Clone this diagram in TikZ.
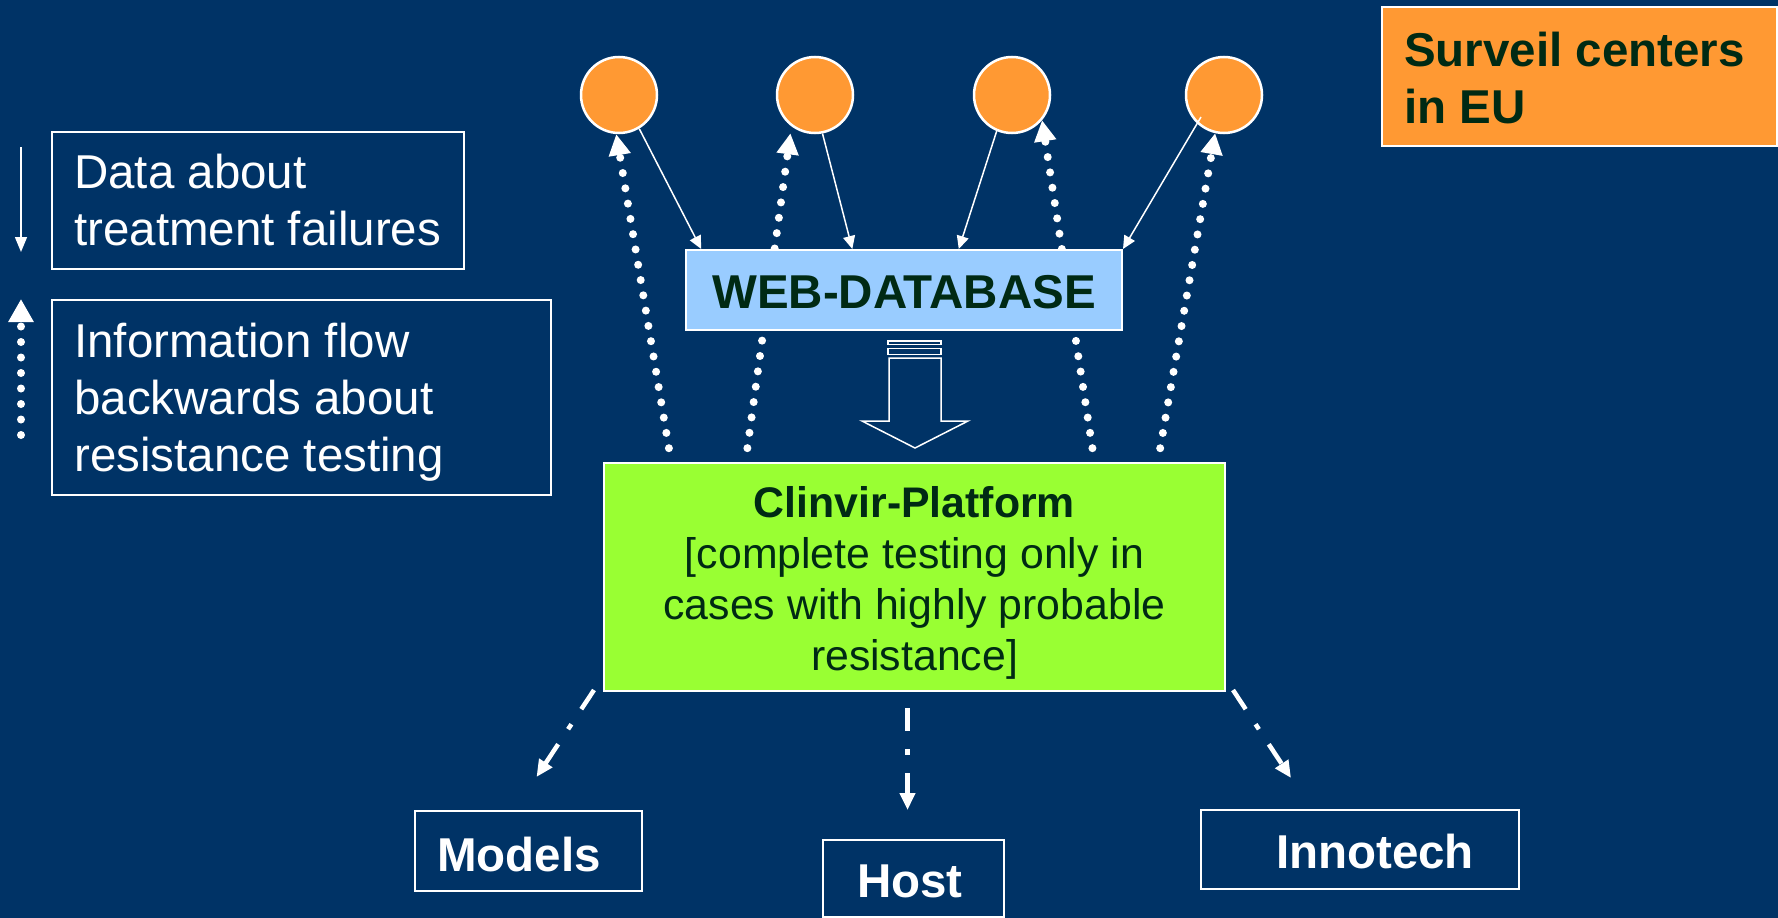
\documentclass[tikz,border=0pt]{standalone}
\usepackage{fontspec}
\setmainfont{Liberation Sans}
\usetikzlibrary{arrows.meta,calc}

\definecolor{bgnavy}{HTML}{003366}
\definecolor{centerorange}{HTML}{FF9933}
\definecolor{dbblue}{HTML}{99CCFF}
\definecolor{platgreen}{HTML}{99FF33}
\definecolor{darkink}{RGB}{0,42,20}

\newcommand{\bigfont}{\fontsize{47.5}{57}\selectfont}
\newcommand{\platfont}{\fontsize{42.8}{51}\selectfont}

\begin{document}
\begin{tikzpicture}[x=1pt, y=-1pt,
  boxnode/.style={draw=white, line width=2pt, rectangle, inner sep=0pt},
  center/.style={circle, draw=white, line width=2.5pt, fill=centerorange,
    minimum size=76pt, inner sep=0pt},
  whitetext/.style={text=white, inner sep=0pt, font=\bigfont},
  inktext/.style={text=darkink, inner sep=0pt},
  solidarr/.style={draw=white, line width=1.5pt, -{Triangle[length=13pt,width=12pt]}},
  dotarr/.style={draw=white, line width=8pt, line cap=round,
    dash pattern=on 0pt off 15.5pt, -{Triangle[length=21pt,width=21pt]}},
  dasharr/.style={draw=white, line width=4.5pt,
    dash pattern=on 23pt off 18pt on 6pt off 18pt,
    -{Triangle[length=17pt,width=15pt]}},
  hollow/.style={draw=white, line width=1.5pt, line join=miter}
]
% canvas
\path[fill=bgnavy, use as bounding box] (0,0) rectangle (1778,918);

% surveillance centres
\node[center] (c1) at (619,95) {};
\node[center] (c2) at (815,95) {};
\node[center] (c3) at (1012,95) {};
\node[center] (c4) at (1224,95) {};

% platform
\node[boxnode, fill=platgreen, minimum width=621pt, minimum height=228pt] (clin) at (914.5,577) {};
\node[inktext, anchor=north, align=center, font=\platfont] (clintext) at (914.5,481.8)
  {\strut\textbf{Clinvir-Platform}\\\strut[complete testing only in\\\strut cases with highly probable\\\strut resistance]};

% information flowing back to the centres
\draw[dotarr, shorten <=14pt] ($(clin.north west)!0.1095!(clin.north east)$) -- (c1.266);
\draw[dotarr, shorten <=14pt, shorten >=7pt] ($(clin.north west)!0.2287!(clin.north east)$) -- (c2.233);
\draw[dotarr, shorten <=14pt] ($(clin.north west)!0.789!(clin.north east)$) -- (c3.320);
\draw[dotarr, shorten <=14pt] ($(clin.north west)!0.8905!(clin.north east)$) -- (c4.257);

% web database
\node[boxnode, fill=dbblue, minimum width=436pt, minimum height=80pt] (web) at (904,290) {};
\node[inktext, anchor=base, font=\bigfont\bfseries] (webtext) at (904,308) {WEB-DATABASE};

% data sent from the centres
\draw[solidarr] (c1.301) -- ($(web.north west)!0.037!(web.north east)$);
\draw[solidarr] (c2.281) -- ($(web.north west)!0.382!(web.north east)$);
\draw[solidarr] (c3.247) -- ($(web.north west)!0.625!(web.north east)$);
\draw[solidarr] ($(c4.center)+(-23,22)$) -- (web.north east);

% hollow transfer arrow
\draw[hollow] (888,341) rectangle (941,344.5);
\draw[hollow] (888,348.3) rectangle (941,354.3);
\draw[hollow] (889,358) -- (941,358) -- (941,421) -- (968,421) -- (915,448)
  -- (862,421) -- (889,421) -- cycle;

% legend
\node[boxnode, minimum width=412pt, minimum height=137.5pt] (legdata) at (258,200.25) {};
\node[whitetext, anchor=north west, align=left] (legdatatext) at (74,148.1)
  {\strut Data about\\\strut treatment failures};
\node[boxnode, minimum width=499pt, minimum height=195pt] (leginfo) at (301.5,397.5) {};
\node[whitetext, anchor=north west, align=left] (leginfotext) at (74,317.1)
  {\strut Information flow\\\strut backwards about\\\strut resistance testing};
\coordinate (ldtop) at (21,147);
\coordinate (ldbot) at (21,252);
\draw[solidarr, -{Triangle[length=15pt,width=12pt]}] (ldtop) -- (ldbot);
\coordinate (lutail) at (21,435);
\coordinate (luhead) at (21,299);
\draw[dotarr, -{Triangle[length=23pt,width=24pt]}] (lutail) -- (luhead);

% title box
\node[boxnode, fill=centerorange, minimum width=395pt, minimum height=139pt] (surveil) at (1579.5,76.5) {};
\node[inktext, anchor=north west, align=left, font=\bigfont\bfseries] (surveiltext) at (1404,26.1)
  {\strut Surveil centers\\\strut in EU};

% downstream partners
\node[boxnode, minimum width=227pt, minimum height=80pt] (models) at (528.5,851) {};
\node[whitetext, anchor=base, font=\bigfont\bfseries] (modelstext) at (519,871) {Models};
\node[boxnode, minimum width=181pt, minimum height=77pt] (host) at (913.5,878.5) {};
\node[whitetext, anchor=base, font=\bigfont\bfseries] (hosttext) at (910,897) {Host};
\node[boxnode, minimum width=318pt, minimum height=79pt] (innotech) at (1360,849.5) {};
\node[whitetext, anchor=base, font=\bigfont\bfseries] (innotechtext) at (1375,868) {Innotech};

\draw[dasharr] ($(clin.south west)+(-9,-2)$) -- ($(models.north)+(8,-33)$);
\draw[dasharr, shorten <=16pt, shorten >=29pt] ($(clin.south)+(-7,0)$) -- ($(host.north)+(-6,0)$);
\draw[dasharr] ($(clin.south east)+(7,-2)$) -- ($(innotech.north)+(-69,-31)$);
\end{tikzpicture}
\end{document}
